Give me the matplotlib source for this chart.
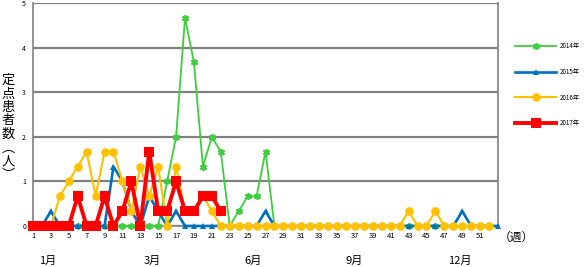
import matplotlib
matplotlib.use("Agg")
import matplotlib.pyplot as plt

plt.rcParams['font.family'] = ['Noto Sans CJK JP', 'DejaVu Sans']

t = 1/3
weeks = list(range(1, 54))
x_tick_labels = [str(w) for w in range(1, 53, 2)]
y_ticks = [0, 1, 2, 3, 4, 5]
series_names = ["2014年", "2015年", "2016年", "2017年"]

v2014 = [0]*15 + [1, 2, 14*t, 11*t, 4*t, 2, 5*t, 0, t, 2*t, 2*t, 5*t] + [0]*25
v2015 = [0, 0, t, 0, 0, 0, 0, 0, 0, 4*t, 1, t, 0, 2*t, t, 0, t, 0,
         0, 0, 0, 0, 0, 0, 0, 0, t] + [0]*21 + [t, 0, 0, 0, 0]
v2016 = [0, 0, 0, 2*t, 1, 4*t, 5*t, 2*t, 5*t, 5*t, 1, t, 4*t, 2*t, 4*t, 0,
         4*t, t, t, 2*t, t] + [0]*21 + [t, 0, 0, t] + [0]*6
v2017 = [0, 0, 0, 0, 0, 2*t, 0, 0, 2*t, 0, t, 1, 0, 5*t, t, t, 1, t, t,
         2*t, 2*t, t]

y_label_chars = ["定", "点", "患", "者", "数", "︵", "人", "︶"]
month_labels = ["1月", "3月", "6月", "9月", "12月"]
month_x_px = [48, 152, 253, 354, 460]

W, H = 584, 267
fig = plt.figure(figsize=(W/100, H/100), dpi=100)
ax = fig.add_axes([33/W, (H-226)/H, (498-33)/W, (226-3)/H])

styles = [
    dict(color='#3ccf3c', lw=1.3, marker=(6, 2, 0), ms=5, mew=1.2),
    dict(color='#0070c0', lw=1.9, marker='^', ms=4.5, mew=0),
    dict(color='#ffc000', lw=1.5, marker='o', ms=6.2, mew=0),
    dict(color='#ff0000', lw=2.8, marker='s', ms=6.5, mew=0),
]
data = [v2014, v2015, v2016, v2017]
handles = []
for name, vals, st in zip(series_names, data, styles):
    xs = weeks[:len(vals)]
    ln, = ax.plot(xs, vals, color=st['color'], lw=st['lw'], marker=st['marker'],
                  markersize=st['ms'], markeredgewidth=st['mew'],
                  markeredgecolor=st['color'], markerfacecolor=st['color'],
                  clip_on=False, zorder=3, label=name)
    handles.append(ln)

ax.set_xlim(1, 53)
ax.set_ylim(0, 5)
ax.set_yticks(y_ticks)
ax.set_yticklabels([str(v) for v in y_ticks], fontsize=5)
ax.set_xticks(list(range(1, 53, 2)))
ax.set_xticklabels(x_tick_labels, fontsize=5.5)
ax.tick_params(axis='both', length=0, pad=4)
ax.tick_params(axis='y', pad=5)
ax.grid(axis='y', color='#808080', lw=1.6, zorder=1)
ax.set_axisbelow(True)
for s in ['left', 'right', 'bottom']:
    ax.spines[s].set_color('#808080')
    ax.spines[s].set_linewidth(1.2)
ax.spines['top'].set_visible(False)

fig.legend(handles=handles, loc='upper left',
           bbox_to_anchor=(515/W, 1-42/H), frameon=False, fontsize=4.5,
           handlelength=6.6, handletextpad=0.5, labelspacing=2.85,
           borderaxespad=0, borderpad=0)

for i, ch in enumerate(y_label_chars):
    fig.text(8/W, 1-(80 + i*13.6)/H, ch, fontsize=9.5, ha='center', va='center')
fig.text(516/W, 1-237/H, "（週）", fontsize=8.5, ha='center', va='center')
for lab, xp in zip(month_labels, month_x_px):
    fig.text(xp/W, 1-261/H, lab, fontsize=8, ha='center', va='center')

fig.savefig("out.png", dpi=100)
